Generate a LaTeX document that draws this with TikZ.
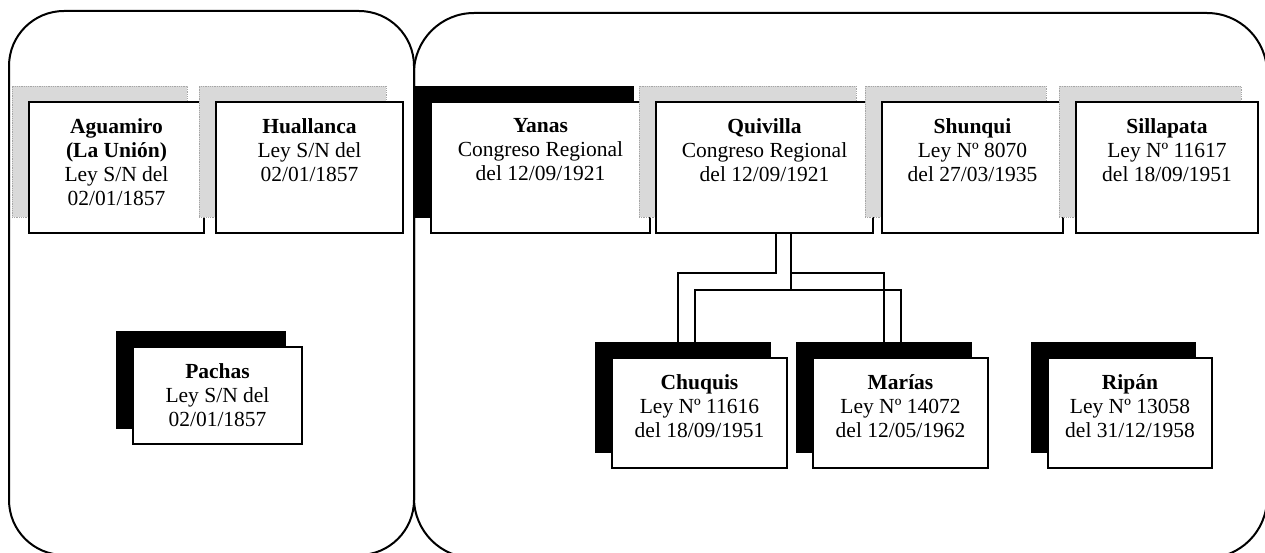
\documentclass[tikz,border=0pt]{standalone}
\usepackage{fontspec}
\setmainfont{Liberation Serif}
\tikzset{
  frame/.style={draw=black, line width=2pt, rounded corners=#1},
  front/.style={draw=black, line width=1.4pt, fill=white, rectangle, anchor=north west, inner sep=0pt, outer sep=0pt},
  grayshadow/.style={draw=gray!70, densely dotted, line width=0.8pt, fill=gray!30, rectangle, anchor=north west, inner sep=0pt, outer sep=0pt},
  blackshadow/.style={draw=black, fill=black, rectangle, anchor=north west, inner sep=0pt, outer sep=0pt},
  txt/.style={anchor=north, align=center, inner sep=0pt, font=\fontsize{21.5}{24}\selectfont},
  conn/.style={draw=black, line width=1.2pt}
}
% #1 name, #2 x1, #3 y1, #4 x2, #5 y2, #6 shadow style, #7 text
\newcommand{\muni}[7]{%
  \node[#6, minimum width=#4-#2, minimum height=#5-#3] (#1-s) at (#2-17,#3-16) {};
  \node[front, minimum width=#4-#2, minimum height=#5-#3] (#1) at (#2,#3) {};
  \node[txt] (#1-t) at ([yshift=-16pt]#1.north) {#7};
}
\begin{document}
\begin{tikzpicture}[x=1pt,y=-1pt]
\useasboundingbox (0,0) rectangle (1265,553);
% outer frames
\draw[frame=55pt] (9,11) rectangle (414,555);
\draw[frame=60pt] (414,13) rectangle (1267,558);
% top row
\muni{aguamiro}{29}{102}{204}{233}{grayshadow}{\textbf{Aguamiro}\\\textbf{(La Unión)}\\Ley S/N del\\02/01/1857}
\muni{huallanca}{216}{102}{403}{233}{grayshadow}{\textbf{Huallanca}\\Ley S/N del\\02/01/1857}
\muni{yanas}{431}{102}{650}{233}{blackshadow}{\textbf{Yanas}\\Congreso Regional\\del 12/09/1921}
\muni{quivilla}{656}{102}{873}{233}{grayshadow}{\textbf{Quivilla}\\Congreso Regional\\del 12/09/1921}
\muni{shunqui}{882}{102}{1063}{233}{grayshadow}{\textbf{Shunqui}\\Ley Nº 8070\\del 27/03/1935}
\muni{sillapata}{1076}{102}{1258}{233}{grayshadow}{\textbf{Sillapata}\\Ley Nº 11617\\del 18/09/1951}
% lower row
\muni{pachas}{133}{347}{302}{444}{blackshadow}{\textbf{Pachas}\\Ley S/N del\\02/01/1857}
\muni{chuquis}{612}{358}{787}{468}{blackshadow}{\textbf{Chuquis}\\Ley Nº 11616\\del 18/09/1951}
\muni{marias}{813}{358}{988}{468}{blackshadow}{\textbf{Marías}\\Ley Nº 14072\\del 12/05/1962}
\muni{ripan}{1048}{358}{1212}{468}{blackshadow}{\textbf{Ripán}\\Ley Nº 13058\\del 31/12/1958}
% connectors
\coordinate (qa) at ([xshift=11.5pt]quivilla.south);
\coordinate (qb) at ([xshift=26.5pt]quivilla.south);
\draw[conn] (qa) -- ++(0,40) coordinate (ha) -| ([xshift=-4.5pt]chuquis-s.north);
\draw[conn] (qb) -- ++(0,57) coordinate (hb);
\draw[conn] ([xshift=12.5pt]chuquis-s.north) |- (hb) -| ([xshift=17.5pt]marias-s.north);
\draw[conn] (qb |- ha) -| ([xshift=0.5pt]marias-s.north);
\end{tikzpicture}
\end{document}
